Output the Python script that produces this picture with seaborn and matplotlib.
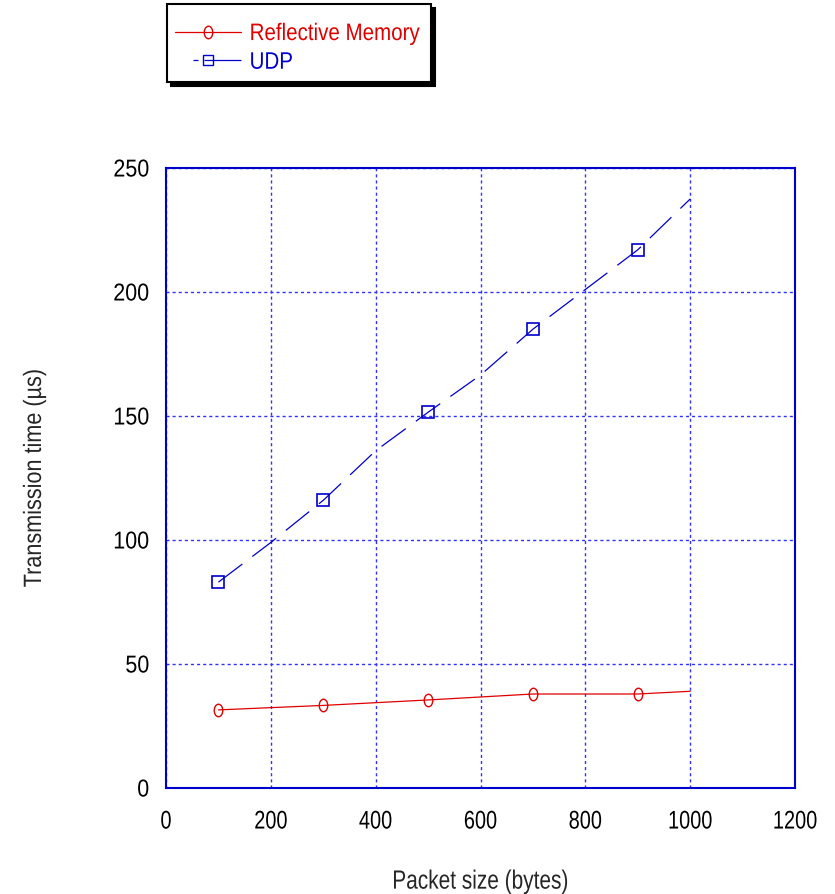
import numpy as np
import pandas as pd
import matplotlib
matplotlib.use("Agg")
import matplotlib.pyplot as plt
import seaborn as sns
from matplotlib.path import Path
from matplotlib.lines import Line2D
from matplotlib.transforms import Affine2D
from matplotlib.patheffects import AbstractPathEffect

# data
packet_size = [100, 200, 300, 400, 500, 600, 700, 800, 900, 1000]
udp_time = [83, 99, 116, 136, 151.5, 166.5, 185, 201, 217, 237.5]
rm_time = [31.5, 32.4, 33.3, 34.4, 35.5, 36.7, 37.9, 37.9, 37.9, 39.0]
x_ticks = [0, 200, 400, 600, 800, 1000, 1200]
y_ticks = [0, 50, 100, 150, 200, 250]
series_names = ["Reflective Memory", "UDP"]

RED = "#e00000"
BLUE = "#0000cc"
GRID_BLUE = "#3030ff"


class Squeeze(AbstractPathEffect):
    """Narrow the glyphs horizontally (the original uses a condensed look)."""

    def __init__(self, sx, anchor="center", shift=0):
        super().__init__()
        self.sx = sx
        self.anchor = anchor
        self.shift = shift  # extra horizontal offset, in pixels

    def draw_path(self, renderer, gc, tpath, affine, rgbFace=None):
        ext = tpath.get_extents()
        if self.anchor == "right":
            cx = ext.x1
        elif self.anchor == "left":
            cx = ext.x0
        else:
            cx = (ext.x0 + ext.x1) / 2
        pre = Affine2D().translate(-cx, 0).scale(self.sx, 1).translate(cx, 0)
        post = Affine2D().translate(self.shift, 0)
        renderer.draw_path(gc, tpath, pre + affine + post, rgbFace)


sns.set_style("white")
plt.rcParams["font.family"] = ["Liberation Sans", "DejaVu Sans"]

df = pd.DataFrame({"size": packet_size, "udp": udp_time, "rm": rm_time})

fig = plt.figure(figsize=(8.35, 8.95), dpi=100)
ax = fig.add_axes([166 / 835, 1 - 789 / 895, 629 / 835, 620 / 895])

# slightly tall ellipse, as in the original
ellipse = Path.unit_circle()
ellipse = Path(ellipse.vertices * np.array([0.68, 1.0]), ellipse.codes)

sns.lineplot(data=df, x="size", y="rm", ax=ax, color=RED, lw=0.9,
             marker=ellipse, markersize=9, markerfacecolor="none",
             markeredgecolor=RED, markeredgewidth=1.0, markevery=[0, 2, 4, 6, 8])
sns.lineplot(data=df, x="size", y="udp", ax=ax, color=BLUE, lw=0.9,
             marker="s", markersize=8.5, markerfacecolor="none",
             markeredgecolor=BLUE, markeredgewidth=1.2, markevery=[0, 2, 4, 6, 8])
ax.lines[1].set_dashes((24, 10))

ax.set_xlim(0, 1200)
ax.set_ylim(0, 250)
ax.set_xticks(x_ticks)
ax.set_yticks(y_ticks)
ax.tick_params(axis="both", length=0, colors="black")
ax.tick_params(axis="x", pad=15.5, labelsize=18.4)
ax.tick_params(axis="y", pad=12, labelsize=17.6)
for lab in ax.get_xticklabels():
    lab.set_path_effects([Squeeze(0.78, "center")])
for lab in ax.get_yticklabels():
    lab.set_path_effects([Squeeze(0.88, "right")])

ax.grid(True, color=GRID_BLUE, lw=1.0, linestyle=(0, (2.2, 2.2)))
for s in ax.spines.values():
    s.set_visible(True)
    s.set_color(BLUE)
    s.set_linewidth(1.5)

xl = ax.set_xlabel("Packet size (bytes)", fontsize=19, labelpad=26)
yl = ax.set_ylabel("Transmission time (µs)", fontsize=18, labelpad=45)
xl.set_path_effects([Squeeze(0.79)])
yl.set_path_effects([Squeeze(0.865)])

handles = [
    Line2D([], [], color=RED, lw=0.9, marker=ellipse, markersize=9,
           markerfacecolor="none", markeredgecolor=RED),
    Line2D([], [], color=BLUE, lw=0.9, linestyle=(0, (0.01, 14.4, 4, 4.8, 200)),
           marker="s", markersize=7.5,
           markerfacecolor="none", markeredgecolor=BLUE),
]
# a tiny blank title pushes the rows down inside the box, as in the original
leg = fig.legend(handles, series_names, loc="upper left",
                 bbox_to_anchor=(167 / 835, 1 - 5 / 895), borderaxespad=0,
                 fancybox=False, edgecolor="black", framealpha=1,
                 shadow={"ox": 3, "oy": -3, "color": "black", "alpha": 1},
                 prop={"size": 17.2}, title=" ", title_fontsize=3,
                 handlelength=2.76, handletextpad=-0.71, labelspacing=0.28,
                 borderpad=0.35)
leg.get_frame().set_linewidth(1.5)
for t, c in zip(leg.get_texts(), [RED, BLUE]):
    t.set_color(c)
    t.set_path_effects([Squeeze(0.86, "left", shift=25)])

fig.savefig("out.png", dpi=100)
